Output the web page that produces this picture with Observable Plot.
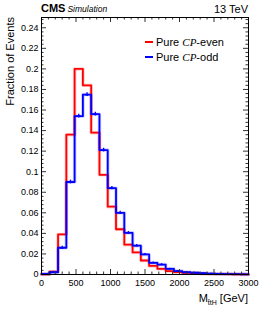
<!DOCTYPE html>
<html><head><meta charset="utf-8">
<script src="https://cdn.jsdelivr.net/npm/d3@7"></script>
<script src="https://cdn.jsdelivr.net/npm/@observablehq/plot@0.6"></script>
<style>body{margin:0;background:#fff} svg{display:block}</style>
</head><body><div id="chart"></div>
<script>
const binEdges = [0,120,240,360,480,600,720,840,960,1080,1200,1320,1440,1560,1680,1800,1920,2040,2160,2280,2400,2520,2640,2760,2880,3000];
const cpEven = [0.0002,0.0027,0.039,0.136,0.200,0.184,0.138,0.097,0.066,0.044,0.029,0.0215,0.0136,0.0083,0.0055,0.0033,0.0023,0.0017,0.0012,0.0008,0.0006,0.0004,0.0003,0.0002,0.0001];
const cpOdd  = [0.0006,0.0022,0.026,0.090,0.154,0.175,0.156,0.121,0.084,0.060,0.0405,0.028,0.0195,0.0114,0.0097,0.0055,0.0033,0.0022,0.0017,0.0012,0.0009,0.0006,0.0004,0.0003,0.0002];
const cpOddErr = [0.0003,0.0006,0.0015,0.0018,0.0018,0.0018,0.0018,0.0018,0.0016,0.0015,0.0013,0.0012,0.001,0.0008,0.0008,0.0006,0.0005,0.0004,0.0004,0.0003,0.0003,0.0002,0.0002,0.0002,0.0001];
const xTicks = [0,500,1000,1500,2000,2500,3000];
const xMinor = [100,200,300,400,600,700,800,900,1100,1200,1300,1400,1600,1700,1800,1900,2100,2200,2300,2400,2600,2700,2800,2900];
const yTicks = [0,0.02,0.04,0.06,0.08,0.1,0.12,0.14,0.16,0.18,0.2,0.22,0.24];
const yMinor = [0.004,0.008,0.012,0.016,0.024,0.028,0.032,0.036,0.044,0.048,0.052,0.056,0.064,0.068,0.072,0.076,0.084,0.088,0.092,0.096,0.104,0.108,0.112,0.116,0.124,0.128,0.132,0.136,0.144,0.148,0.152,0.156,0.164,0.168,0.172,0.176,0.184,0.188,0.192,0.196,0.204,0.208,0.212,0.216,0.224,0.228,0.232,0.236,0.244,0.248];
const seriesNames = ["Pure CP-even","Pure CP-odd"];
const seriesColors = ["#ff0000","#0000ff"];

function steps(vals){
  const pts = vals.map((v,i)=>({x:binEdges[i], y:v}));
  pts.push({x:binEdges[vals.length], y:vals[vals.length-1]});
  return pts;
}
const evenPts = steps(cpEven), oddPts = steps(cpOdd);
const errData = cpOdd.map((v,i)=>({x:(binEdges[i]+binEdges[i+1])/2, y:v, e:cpOddErr[i]}));

const W = 261, H = 327, ML = 41, MR = 13, MT = 17, MB = 53;
const PW = W-ML-MR, PH = H-MT-MB;
const font = "'Liberation Sans', Arial, Helvetica, sans-serif";

const chart = Plot.plot({
  width: W, height: H,
  marginLeft: ML, marginRight: MR, marginTop: MT, marginBottom: MB,
  style: {fontFamily: font, fontSize: "9px", color: "#000", background: "#fff"},
  x: {domain: [0,3000]},
  y: {domain: [0,0.25]},
  marks: [
    Plot.axisX({ticks: xTicks, tickSize: 0, tickPadding: 5, tickFormat: d => String(d), label: null, fontSize: 9}),
    Plot.axisY({ticks: yTicks, tickSize: 0, tickPadding: 3, tickFormat: d => String(+d.toFixed(2)), label: null, fontSize: 9}),
    // halos
    Plot.line(evenPts, {x:"x", y:"y", curve:"step-after", stroke: seriesColors[0], strokeWidth: 3.5, strokeOpacity: 0.2}),
    Plot.line(oddPts, {x:"x", y:"y", curve:"step-after", stroke: seriesColors[1], strokeWidth: 3.5, strokeOpacity: 0.2}),
    Plot.line(evenPts, {x:"x", y:"y", curve:"step-after", stroke: seriesColors[0], strokeWidth: 1.8}),
    Plot.line(oddPts, {x:"x", y:"y", curve:"step-after", stroke: seriesColors[1], strokeWidth: 1.8}),
    Plot.ruleX(errData, {x:"x", y1: d=>d.y-d.e, y2: d=>d.y+d.e, stroke: seriesColors[1], strokeWidth: 1.3}),
    Plot.ruleY(errData, {y:"y", x1: d=>d.x-30, x2: d=>d.x+30, stroke: seriesColors[1], strokeWidth: 1.3}),
    // ticks inward
    Plot.ruleX(xTicks, {x: d=>d, insetTop: PH-5, stroke:"#333"}),
    Plot.ruleX(xTicks, {x: d=>d, insetBottom: PH-5, stroke:"#333"}),
    Plot.ruleX(xMinor, {x: d=>d, insetTop: PH-2.5, stroke:"#333"}),
    Plot.ruleX(xMinor, {x: d=>d, insetBottom: PH-2.5, stroke:"#333"}),
    Plot.ruleY(yTicks, {y: d=>d, insetRight: PW-5, stroke:"#333"}),
    Plot.ruleY(yTicks, {y: d=>d, insetLeft: PW-5, stroke:"#333"}),
    Plot.ruleY(yMinor, {y: d=>d, insetRight: PW-2.5, stroke:"#333"}),
    Plot.ruleY(yMinor, {y: d=>d, insetLeft: PW-2.5, stroke:"#333"}),
    Plot.frame({stroke: "#000", strokeWidth: 1})
  ]
});
document.getElementById("chart").appendChild(chart);

const svg = d3.select(chart);
const g = svg.append("g").attr("font-family", font).attr("fill", "#000").attr("text-anchor", "start");
// CMS header
const hdr = g.append("text").attr("x", ML).attr("y", 12).attr("text-anchor", "start");
hdr.append("tspan").attr("font-weight", "bold").attr("font-size", 11).text("CMS");
hdr.append("tspan").attr("font-style", "italic").attr("font-size", 8.5).attr("dx", 2).text("Simulation");
g.append("text").attr("x", ML+PW).attr("y", 13).attr("text-anchor", "end").attr("font-size", 11).text("13 TeV");
// axis titles
g.append("text").attr("transform", `translate(14,${MT}) rotate(-90)`).attr("text-anchor", "end").attr("font-size", 11).text("Fraction of Events");
const xl = g.append("text").attr("x", ML+PW).attr("y", 302).attr("text-anchor", "end").attr("font-size", 11);
xl.append("tspan").text("M");
xl.append("tspan").attr("font-size", 7).attr("dy", 3).text("t\u0304tH");
xl.append("tspan").attr("dy", -3).text(" [GeV]");
// legend
const legY = [42, 57];
seriesNames.forEach((name, i) => {
  g.append("line").attr("x1", 145).attr("x2", 153).attr("y1", legY[i]).attr("y2", legY[i]).attr("stroke", seriesColors[i]).attr("stroke-width", 2);
  const t = g.append("text").attr("x", 156).attr("y", legY[i]+4).attr("font-size", 11).attr("text-anchor", "start");
  const parts = name.split("CP");
  t.append("tspan").text(parts[0]);
  t.append("tspan").attr("font-family", "'Liberation Serif', 'Times New Roman', serif").attr("font-style", "italic").text("CP");
  t.append("tspan").text(parts[1]);
});
</script></body></html>
